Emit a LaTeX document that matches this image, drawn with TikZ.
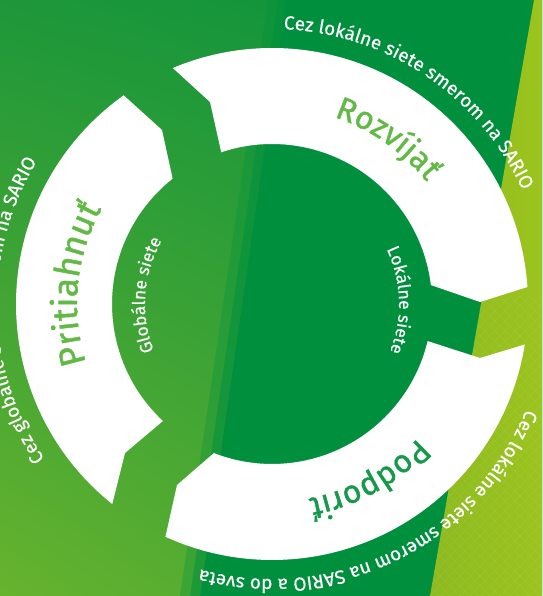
\documentclass[tikz,border=0pt]{standalone}
\usepackage{fontspec}
\setmainfont{Fira Sans}
\newfontfamily\lblfont[FakeBold=1.2]{Fira Sans}
\newfontfamily\smallfont[FakeBold=0.4]{Fira Sans}
\usetikzlibrary{calc,decorations.text,shadings}
\definecolor{bgdark}{HTML}{00903D}
\definecolor{bgul}{HTML}{1E973A}
\definecolor{bgll}{HTML}{67B32E}
\definecolor{bgur}{HTML}{0A933C}
\definecolor{bglr}{HTML}{3CA336}
\definecolor{lime}{HTML}{9CC41F}
\definecolor{limedark}{HTML}{8DBA1F}
\definecolor{lbl}{HTML}{62B946}
\definecolor{lbldark}{HTML}{16994A}
\tikzset{
  ringseg/.style={fill=white},
  outertext/.style={decorate,decoration={text along path,text align=center,text color=white,
      text={|\smallfont\fontsize{19pt}{22pt}\selectfont|#1}}},
  innertext/.style={decorate,decoration={text along path,text align=center,text color=white,
      text={|\smallfont\fontsize{17.5pt}{20pt}\selectfont|#1}}},
  bigtext/.style n args={3}{decorate,decoration={text along path,text align=center,text color=#2,
      text={|\lblfont\fontsize{#3}{#3}\selectfont|#1}}},
}
\begin{document}
\begin{tikzpicture}[x=1pt,y=1pt]
\useasboundingbox (0,0) rectangle (542,596);
\clip (0,0) rectangle (542,596);
% background
\shade[upper left=bgul, lower left=bgll, upper right=bgur, lower right=bglr]
  (0,0) rectangle (542,596);
\fill[bgdark, opacity=0.3] (268,596) -- (286,596) -- (200,0) -- (180,0) -- cycle;
\fill[bgdark, opacity=0.5] (278,596) -- (286,596) -- (200,0) -- (190,0) -- cycle;
\fill[bgdark] (286,596) -- (542,596) -- (542,0) -- (200,0) -- cycle;
\shade[left color=limedark, right color=lime] (534,596) -- (542,596) -- (542,0) -- (430,0) -- cycle;
\begin{scope}
  \clip (534,596) -- (542,596) -- (542,0) -- (430,0) -- cycle;
  \foreach \k in {-600,-590,...,600} {
    \draw[white, opacity=0.07, line width=0.6pt] (430+\k,0) -- ++(300,300);
    \draw[white, opacity=0.07, line width=0.6pt] (430+\k,300) -- ++(300,-300);
  }
\end{scope}
\coordinate (C) at (272,292);
% ring segments
\fill[ringseg] ($(C)+(231.4:256pt)$) arc[start angle=231.4,end angle=125.4,radius=256pt]
  -- (162,466) coordinate (tipL) -- ($(C)+(128.4:160pt)$) arc[start angle=128.4,end angle=227,radius=160pt]
  -- (125,143) coordinate (notchL) -- cycle;
\fill[ringseg] ($(C)+(112.8:256pt)$) arc[start angle=112.8,end angle=3.8,radius=256pt]
  -- (480,294) coordinate (tipR) -- ($(C)+(6.8:160pt)$) arc[start angle=6.8,end angle=108.5,radius=160pt]
  -- (210,494) coordinate (notchR) -- cycle;
\fill[ringseg] ($(C)+(-9.1:256pt)$) arc[start angle=-9.1,end angle=-114.6,radius=256pt]
  -- (177,111) coordinate (tipB) -- ($(C)+(-111.3:160pt)$) arc[start angle=-111.3,end angle=-13.4,radius=160pt]
  -- (480,238) coordinate (notchB) -- cycle;
% outer texts
\path[outertext={Cez lokálne siete smerom na SARIO}]
  ($(C)+(100:275pt)$) arc[start angle=100,end angle=12,radius=275pt];
\path[outertext={Cez lokálne siete smerom na SARIO a do sveta}]
  ($(C)+(0:275pt)$) arc[start angle=0,end angle=-127.6,radius=275pt];
\path[outertext={Cez globálne siete smerom na SARIO}]
  ($(C)+(230:275pt)$) arc[start angle=230,end angle=133,radius=275pt];
% inner texts
\path[innertext={Globálne siete}]
  ($(C)+(243:127pt)$) arc[start angle=243,end angle=108.6,radius=127pt];
\path[innertext={Lokálne siete}]
  ($(C)+(70:127pt)$) arc[start angle=70,end angle=-66.4,radius=127pt];
% big labels
\path[bigtext={Rozvíjať}{lbl}{32pt}]
  ($(C)+(100:197pt)$) arc[start angle=100,end angle=10,radius=197pt];
\path[bigtext={Pritiahnuť}{lbl}{35pt}]
  ($(C)+(221:195pt)$) arc[start angle=221,end angle=127.4,radius=195pt];
\path[bigtext={Podporiť}{lbldark}{32pt}]
  ($(C)+(-16:198pt)$) arc[start angle=-16,end angle=-106,radius=198pt];
\end{tikzpicture}
\end{document}
